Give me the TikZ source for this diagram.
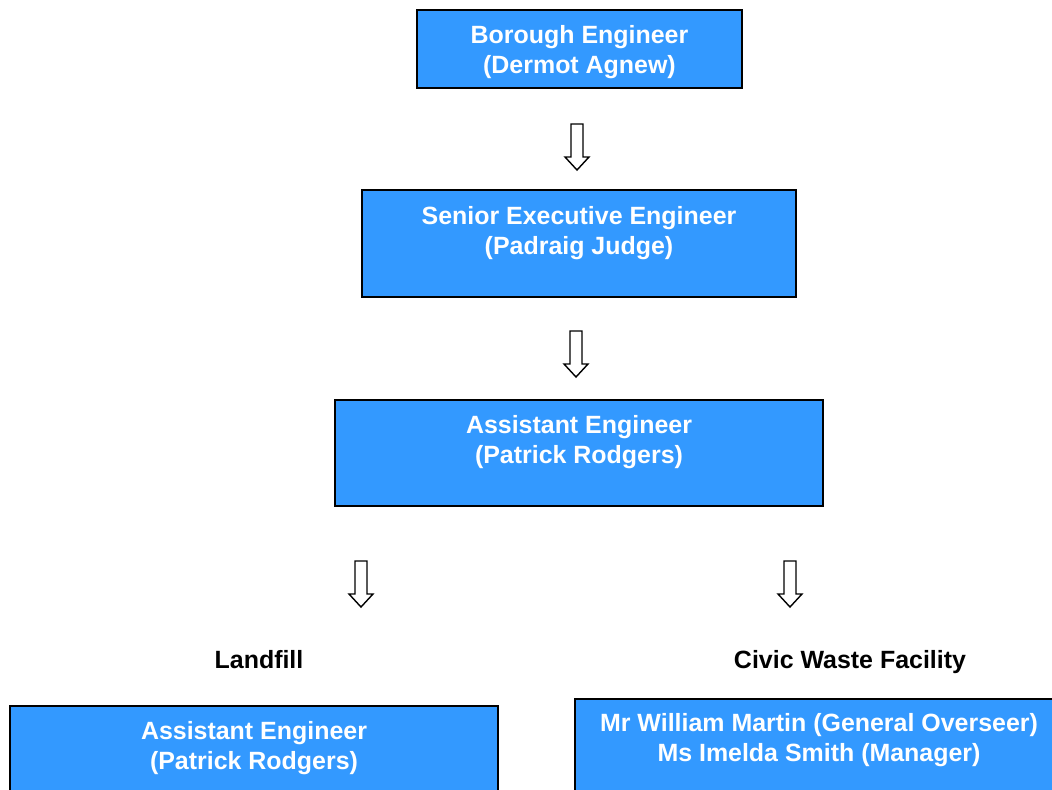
\documentclass[tikz,border=0pt]{standalone}
\usepackage{fontspec}
\setmainfont{Liberation Sans}
\definecolor{boxblue}{HTML}{3399FF}

\tikzset{
  post/.style={draw=black, line width=1.1pt, fill=boxblue, inner sep=0pt},
  posttext/.style={text=white, font=\fontsize{14.2}{17}\selectfont\bfseries, align=center, inner sep=0pt},
  section/.style={font=\fontsize{14.2}{17}\selectfont\bfseries, inner sep=0pt, anchor=base},
  hollowarrow/.pic={
    \draw[line width=0.8pt, fill=white] (-6,0) -- (6,0) -- (6,33) -- (12,33)
      -- (0,46) -- (-12,33) -- (-6,33) -- cycle;
  }
}

\begin{document}
\begin{tikzpicture}[x=0.02cm, y=-0.02cm]

  \useasboundingbox (0,0) rectangle (1052,789);
  \clip (0,0) rectangle (1052,789);

  % Define boxes
  \node[post, minimum width=6.5cm,  minimum height=1.56cm] (boro) at (579.5,49) {};
  \node[post, minimum width=8.68cm, minimum height=2.14cm] (senior) at (579,243.5) {};
  \node[post, minimum width=9.76cm, minimum height=2.12cm] (asst) at (579,453) {};
  \node[post, minimum width=9.76cm, minimum height=2.4cm, anchor=north] (landbox) at (254,705) {};
  \node[post, minimum width=9.76cm, minimum height=2.4cm, anchor=north] (civicbox) at (819,698) {};

  % Box texts
  \node[posttext] (boroT) at (579.5,52.5) {Borough Engineer\\(Dermot Agnew)};
  \node[posttext] (seniorT) at (579,233) {Senior Executive Engineer\\(Padraig Judge)};
  \node[posttext] (asstT) at (579,442.5) {Assistant Engineer\\(Patrick Rodgers)};
  \node[posttext] (landT) at (254,748) {Assistant Engineer\\(Patrick Rodgers)};
  \node[posttext] (civicT) at (819,740.5) {Mr William Martin (General Overseer)\\Ms Imelda Smith (Manager)};

  % Section headings
  \node[section] (landfill) at (259,668) {Landfill};
  \node[section] (civic) at (850,668) {Civic Waste Facility};

  % Arrows
  \pic at (577,124) {hollowarrow};
  \pic at (576,331) {hollowarrow};
  \pic at (361,561) {hollowarrow};
  \pic at (790,561) {hollowarrow};

\end{tikzpicture}
\end{document}
